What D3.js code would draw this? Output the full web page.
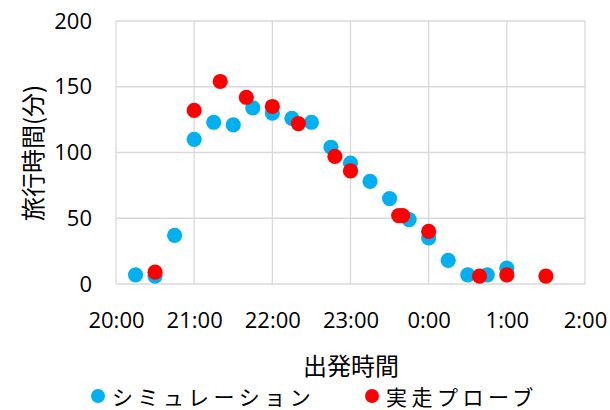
<!DOCTYPE html>
<html>
<head>
<meta charset="utf-8">
<script src="https://cdn.jsdelivr.net/npm/d3@7"></script>
<style>
  html, body { margin: 0; padding: 0; background: #fff; }
  svg { display: block; }
  .tick-label { font-family: "Open Sans", "Noto Sans", sans-serif; font-size: 22px; fill: #000; }
  .jp { font-family: "Noto Sans CJK JP", sans-serif; fill: #000; }
</style>
</head>
<body>
<svg id="chart" width="610" height="410"></svg>
<script>
// Departure times and travel times (minutes)
const simTimes  = ["20:15","20:30","20:45","21:00","21:15","21:30","21:45","22:00","22:15","22:30",
                   "22:45","23:00","23:15","23:30","23:45","0:00","0:15","0:30","0:45","1:00"];
const simValues = [7, 6, 37, 110, 123, 121, 134, 130, 126, 123,
                   104, 92, 78, 65, 49, 35, 18, 7, 7, 12];

const probeTimes  = ["20:30","21:00","21:20","21:40","22:00","22:20","22:48","23:00","23:37","23:40",
                     "0:00","0:39","1:00","1:30"];
const probeValues = [9, 132, 154, 142, 135, 122, 97, 86, 52, 52,
                     40, 6, 7, 6];

const yTicks = [0, 50, 100, 150, 200];
const xTickLabels = ["20:00","21:00","22:00","23:00","0:00","1:00","2:00"];

const seriesNames = ["シミュレーション", "実走プローブ"];
const seriesColors = ["#00B0F0", "#FF0000"];
const xTitle = "出発時間";
const yTitle = "旅行時間(分)";

// Times after midnight belong to the following day
function toDate(s) {
  const [h, m] = s.split(":").map(Number);
  return new Date(2020, 0, h < 12 ? 2 : 1, h, m);
}

const svg = d3.select("#chart");
const plot = { left: 116, right: 585, top: 21, bottom: 284 };

const x = d3.scaleTime()
  .domain([toDate("20:00"), toDate("2:00")])
  .range([plot.left, plot.right]);
const y = d3.scaleLinear().domain([0, 200]).range([plot.bottom, plot.top]);

const xTickDates = xTickLabels.map(toDate);
const fmt = d3.timeFormat("%-H:%M");

// Gridlines (also form the frame)
const grid = svg.append("g").attr("stroke", "#d9d9d9").attr("stroke-width", 1.3);
grid.selectAll("line.h").data(yTicks).join("line").attr("class", "h")
  .attr("x1", plot.left).attr("x2", plot.right)
  .attr("y1", d => y(d)).attr("y2", d => y(d));
grid.selectAll("line.v").data(xTickDates).join("line").attr("class", "v")
  .attr("y1", plot.top).attr("y2", plot.bottom)
  .attr("x1", d => x(d)).attr("x2", d => x(d));

// Axes (labels only)
const yAxis = svg.append("g")
  .attr("transform", `translate(${plot.left},0)`)
  .call(d3.axisLeft(y).tickValues(yTicks).tickSize(0).tickPadding(24));
yAxis.attr("font-size", null).attr("font-family", null);
yAxis.select(".domain").remove();
yAxis.selectAll("text").attr("class", "tick-label");

const xAxis = svg.append("g")
  .attr("transform", `translate(0,${plot.bottom})`)
  .call(d3.axisBottom(x).tickValues(xTickDates).tickFormat(fmt).tickSize(0).tickPadding(24));
xAxis.attr("font-size", null).attr("font-family", null);
xAxis.select(".domain").remove();
xAxis.selectAll("text").attr("class", "tick-label").attr("dy", null)
  .attr("dominant-baseline", "central").attr("y", 35);

// Points
const sim = simTimes.map((t, i) => ({ t: toDate(t), v: simValues[i] }));
const probe = probeTimes.map((t, i) => ({ t: toDate(t), v: probeValues[i] }));

svg.append("g").selectAll("circle").data(sim).join("circle")
  .attr("cx", d => x(d.t)).attr("cy", d => y(d.v)).attr("r", 7.6)
  .attr("fill", seriesColors[0]);
svg.append("g").selectAll("circle").data(probe).join("circle")
  .attr("cx", d => x(d.t)).attr("cy", d => y(d.v)).attr("r", 7.6)
  .attr("fill", seriesColors[1]);

// Axis titles
svg.append("text").attr("class", "jp")
  .attr("x", 351).attr("y", 364).attr("text-anchor", "middle")
  .attr("dominant-baseline", "central").attr("font-size", 24)
  .text(xTitle);
svg.append("text").attr("class", "jp")
  .attr("transform", "translate(31,153) rotate(-90)")
  .attr("text-anchor", "middle").attr("dominant-baseline", "central")
  .attr("font-size", 24)
  .text(yTitle);

// Legend
const legendX = [98, 372];
const legend = svg.append("g").selectAll("g").data(seriesNames).join("g")
  .attr("transform", (d, i) => `translate(${legendX[i]},396)`);
legend.append("circle").attr("r", 7).attr("fill", (d, i) => seriesColors[i]);
legend.append("text").attr("class", "jp")
  .attr("x", 14).attr("y", -0.5).attr("dominant-baseline", "central").attr("font-size", 21)
  .attr("letter-spacing", 4.5)
  .text(d => d);
</script>
</body>
</html>
